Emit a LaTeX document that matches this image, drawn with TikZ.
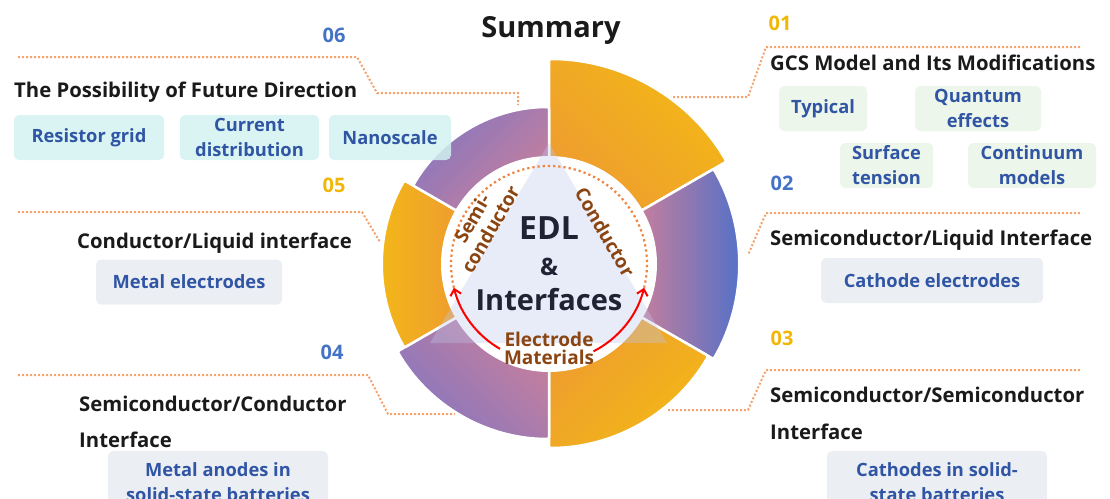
\documentclass[tikz,border=0pt]{standalone}
\usepackage{fontspec}
\setmainfont{Open Sans}
\usetikzlibrary{positioning,arrows.meta}
\definecolor{inkdark}{RGB}{26,26,26}
\definecolor{edlnavy}{RGB}{30,36,52}
\definecolor{clay}{RGB}{139,69,19}
\definecolor{numyellow}{RGB}{242,183,5}
\definecolor{numblue}{RGB}{68,114,196}
\definecolor{tagblue}{RGB}{47,85,164}
\definecolor{linkorange}{RGB}{245,162,108}
\definecolor{ringorange}{RGB}{240,130,60}
\definecolor{yelA}{RGB}{243,184,22}
\definecolor{orgA}{RGB}{238,156,48}
\definecolor{pinkA}{RGB}{201,127,155}
\definecolor{blueA}{RGB}{77,112,202}
\definecolor{purpA}{RGB}{134,119,192}
\definecolor{trifill}{RGB}{190,200,235}
\definecolor{tagcyan}{RGB}{210,242,240}
\definecolor{taggreen}{RGB}{234,244,230}
\definecolor{taggrey}{RGB}{232,235,241}
\tikzstyle{head} = [font=\bfseries\fontsize{20.3}{24}\selectfont, text=inkdark,
inner sep=0pt, anchor=west]
\tikzstyle{num} = [font=\bfseries\fontsize{20}{24}\selectfont, inner sep=0pt]
\tikzstyle{tag} = [rounded corners=5pt, fill opacity=0.85, text opacity=1,
font=\bfseries\fontsize{18.3}{25}\selectfont, text=tagblue, align=center,
minimum height=45pt, inner sep=0pt]
\tikzstyle{link} = [draw=linkorange, line width=2pt, dash pattern=on 2pt off 2pt]

\begin{document}
\begin{tikzpicture}[x=1pt, y=-1pt,
	seg/.style={draw=white, line width=2.5pt, rounded corners=2pt},
	flow/.style={draw=red, line width=2pt, -{Straight Barb[length=6pt,width=11pt]}},
	inner/.style={font=\bfseries\fontsize{19}{18}\selectfont, text=clay, align=center, inner sep=0pt}]
	\useasboundingbox (0,0) rectangle (1110,498);
	%% Connectors
	\coordinate (l6) at (18,57);    \coordinate (e6) at (518,105);
	\coordinate (l5) at (18,212);   \coordinate (e5) at (380,242);
	\coordinate (l4) at (18,375);   \coordinate (e4) at (455,414);
	\coordinate (l1) at (1080,47);  \coordinate (e1) at (671,97);
	\coordinate (l2) at (1080,213); \coordinate (e2) at (748,255);
	\coordinate (l3) at (1080,370); \coordinate (e3) at (668,410);
	\draw[link] (l6) -- (357,57) -- (377,93) -- (518,93) -- (e6);
	\draw[link] (l5) -- (362,212) -- (e5);
	\draw[link] (l4) -- (368,375) -- (388,414) -- (e4);
	\draw[link] (l1) -- (766,47) -- (748,97) -- (e1);
	\draw[link] (l2) -- (766,213) -- (e2);
	\draw[link] (l3) -- (766,370) -- (748,410) -- (e3);
	%% Wheel
	\begin{scope}[shift={(549,264)}, y=1pt]
		\shadedraw[seg, top color=yelA, bottom color=orgA, shading angle=-45]
		(30:100) arc (30:90:100) -- (90:205) arc (90:30:205) -- cycle;
		\shadedraw[seg, left color=pinkA, right color=blueA]
		(-30:100) arc (-30:30:100) -- (30:190) arc (30:-30:190) -- cycle;
		\shadedraw[seg, top color=yelA, bottom color=orgA, shading angle=-135]
		(-90:100) arc (-90:-30:100) -- (-30:184) arc (-30:-90:184) -- cycle;
		\shadedraw[seg, top color=pinkA, bottom color=purpA, shading angle=-45]
		(210:100) arc (210:270:100) -- (270:175) arc (270:210:175) -- cycle;
		\shadedraw[seg, left color=yelA, right color=orgA]
		(150:100) arc (150:210:100) -- (210:167) arc (210:150:167) -- cycle;
		\shadedraw[seg, top color=purpA, bottom color=pinkA, shading angle=45]
		(90:100) arc (90:150:100) -- (150:157) arc (150:90:157) -- cycle;
		\fill[white] (0,0) circle (108);
		\fill[trifill, fill opacity=0.35] (0,121) -- (-119,-79) -- (118,-79) -- cycle;
		\draw[ringorange, line width=2.2pt, dash pattern=on 2.2pt off 3pt] (-14:98) arc (-14:194:98);
		\draw[flow] (240:98) arc (240:194:98);
		\draw[flow] (297:98) arc (297:346:98);
		%% Hub text
		\node[font=\bfseries\fontsize{32}{32}\selectfont, text=edlnavy, inner sep=0pt] (edl) at (0,36) {EDL};
		\node[font=\bfseries\fontsize{24}{24}\selectfont, text=edlnavy, inner sep=0pt] (amp) at (0,-3) {\&};
		\node[font=\bfseries\fontsize{29}{29}\selectfont, text=edlnavy, inner sep=0pt] (ifc) at (0,-36) {Interfaces};
		\node[inner] (elec) at (0,-84) {Electrode\\Materials};
		\node[inner, font=\bfseries\fontsize{19}{21}\selectfont, rotate=60] (semi) at (-68,40) {Semi-\\conductor};
		\node[inner, rotate=-60] (cond) at (56,32) {Conductor};
	\end{scope}
	%% Title and numbers
	\node[font=\bfseries\fontsize{29}{29}\selectfont, text=inkdark, inner sep=0pt] (title) at (551,30) {Summary};
	\node[num, text=numblue] (n6) at (334,35) {06};
	\node[num, text=numyellow] (n5) at (334,185) {05};
	\node[num, text=numblue] (n4) at (332,352) {04};
	\node[num, text=numyellow] (n1) at (780,23) {01};
	\node[num, text=numblue] (n2) at (782,183) {02};
	\node[num, text=numyellow] (n3) at (782,338) {03};
	%% Headings
	\node[head] (h6) at (14,92) {The Possibility of Future Direction};
	\node[head] (h5) at (77,243) {Conductor/Liquid interface};
	\node[head] (h4) at (79,404) {Semiconductor/Conductor};
	\node[head, below=36pt of h4.west, anchor=west] (h4b) {Interface};
	\node[head] (h1) at (770,63) {GCS Model and Its Modifications};
	\node[head] (h2) at (770,240) {Semiconductor/Liquid Interface};
	\node[head] (h3) at (770,395) {Semiconductor/Semiconductor};
	\node[head, below=37pt of h3.west, anchor=west] (h3b) {Interface};
	%% Tags
	\node[tag, fill=tagcyan, minimum width=150pt] (grid) at (89,137.5) {Resistor grid};
	\node[tag, fill=tagcyan, minimum width=139pt] (curr) at (249.5,137.5) {Current\\distribution};
	\node[tag, fill=tagcyan, minimum width=122pt] (nano) at (390,137.5) {Nanoscale};
	\node[tag, fill=taggrey, minimum width=186pt] (metal) at (189,282) {Metal electrodes};
	\node[tag, fill=taggrey, minimum width=220pt, minimum height=62pt, anchor=north] (anode) at (218,451) {Metal anodes in\\solid-state batteries};
	\node[tag, fill=taggreen, minimum width=88pt] (typ) at (823,108.5) {Typical};
	\node[tag, fill=taggreen, minimum width=126pt] (quant) at (978,108.5) {Quantum\\effects};
	\node[tag, fill=taggreen, minimum width=93pt] (surf) at (886.5,165.5) {Surface\\tension};
	\node[tag, fill=taggreen, minimum width=128pt] (cont) at (1032,165.5) {Continuum\\models};
	\node[tag, fill=taggrey, minimum width=222pt] (cath) at (932,280.5) {Cathode electrodes};
	\node[tag, fill=taggrey, minimum width=220pt, minimum height=62pt, anchor=north] (cathss) at (937,451) {Cathodes in solid-\\state batteries};
\end{tikzpicture}
\end{document}
